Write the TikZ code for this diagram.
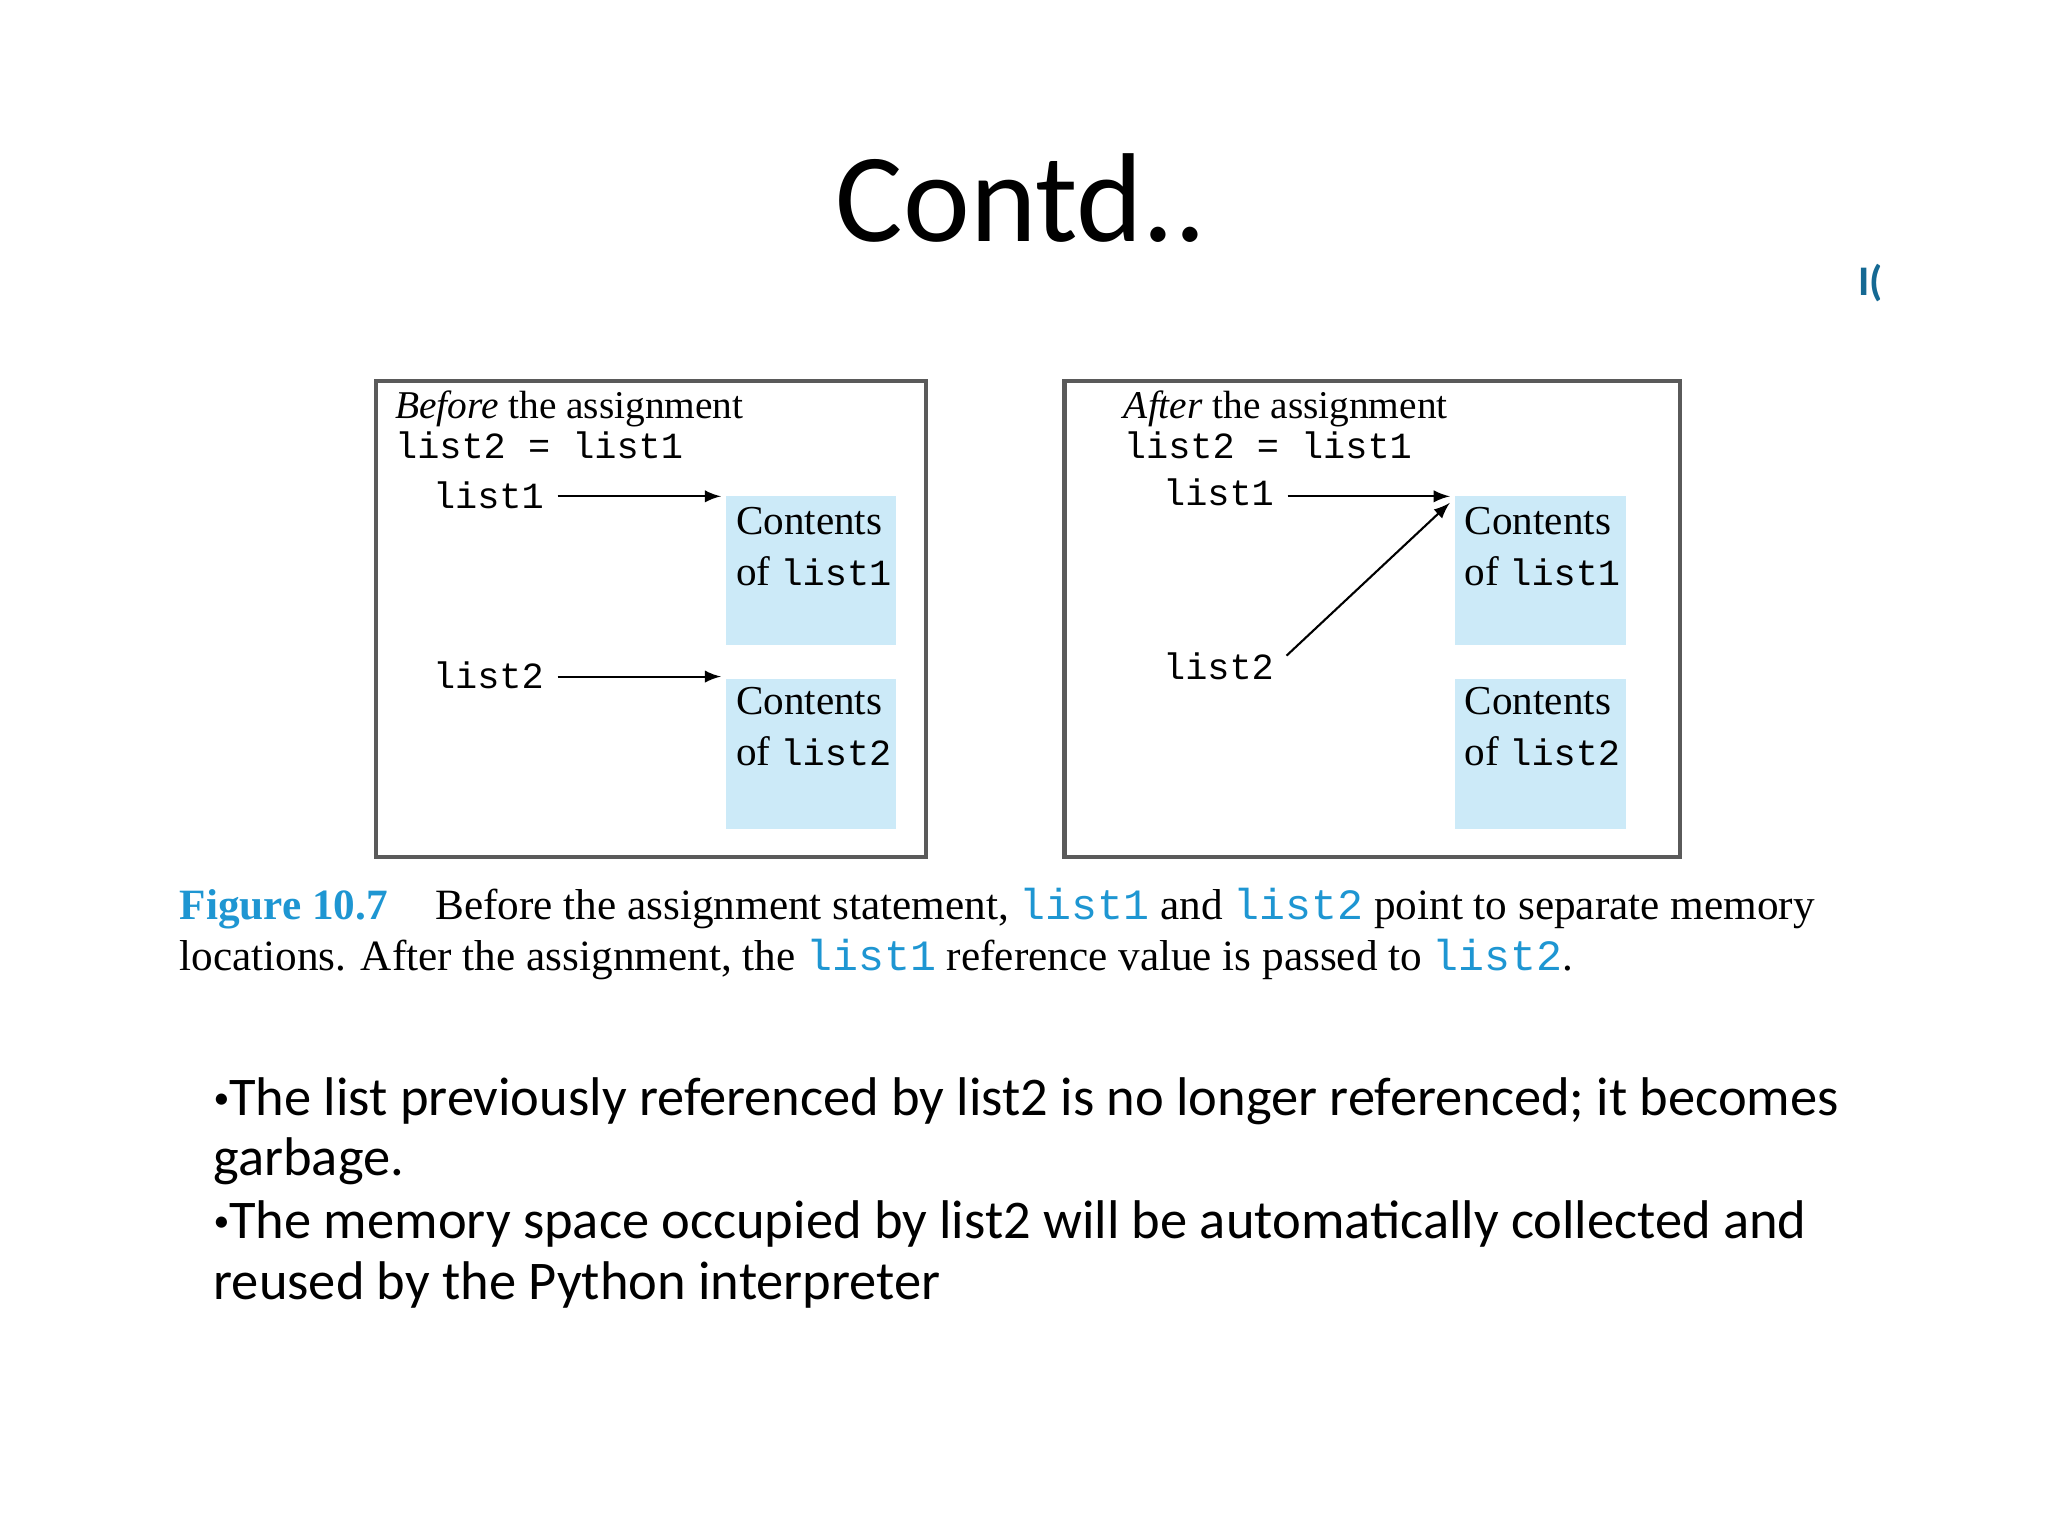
\documentclass[tikz,border=0pt]{standalone}
\usepackage{fontspec}
\setmainfont{Liberation Serif}
\newfontfamily\calfont{Carlito}
\setmonofont{Liberation Mono}
\definecolor{lb}{RGB}{204,234,248}
\definecolor{capblue}{RGB}{30,150,210}
\definecolor{frame}{RGB}{90,90,90}
\begin{document}
\begin{tikzpicture}[x=0.01306cm,y=-0.01306cm,
  fr/.style={draw=frame,line width=1.2pt},
  lbl/.style={anchor=west,inner sep=0,font=\ttfamily\fontsize{10.5}{12}\selectfont},
  cont/.style={align=left,inner sep=0,anchor=north west,font=\fontsize{11.7}{14.5}\selectfont},
  arr/.style={-latex,line width=0.6pt},
  hd/.style={anchor=west,inner sep=0,font=\fontsize{11.2}{13}\selectfont},
  bul/.style={anchor=west,inner sep=0,font=\calfont\fontsize{15.5}{18}\selectfont}]
\useasboundingbox (0,0) rectangle (1568,1176);
\node (title) at (782,152) {\calfont\fontsize{36}{40}\selectfont Contd..};
\node[text=capblue!70!black,inner sep=0] (ic) at (1432,217) {\calfont\bfseries\fontsize{12}{14}\selectfont I(};
% left panel
\draw[fr] (288,292) rectangle (709,656);
\node[hd] (lh1) at (302,313) {\textit{Before} the assignment};
\node[lbl] (lh2) at (302,341) {list2 = list1};
\node[lbl] (l1) at (331,379) {list1};
\fill[lb] (556,380) rectangle (686,494);
\coordinate (bl1w) at (552,380);
\node[cont] (tl1) at (563,388) {Contents\\of \texttt{\fontsize{10.5}{12}\selectfont list1}};
\draw[arr] (l1.east) ++(10,1) -- (bl1w);
\node[lbl] (l2) at (331,517) {list2};
\fill[lb] (556,520) rectangle (686,635);
\coordinate (bl2w) at (552,518);
\node[cont] (tl2) at (563,526) {Contents\\of \texttt{\fontsize{10.5}{12}\selectfont list2}};
\draw[arr] (l2.east) ++(10,1) -- (bl2w);
% right panel
\draw[fr] (815,292) rectangle (1286,656);
\node[hd] (rh1) at (860,313) {\textit{After} the assignment};
\node[lbl] (rh2) at (860,341) {list2 = list1};
\node[lbl] (r1) at (890,377) {list1};
\fill[lb] (1114,380) rectangle (1245,494);
\coordinate (br1w) at (1110,380);
\node[cont] (tr1) at (1121,388) {Contents\\of \texttt{\fontsize{10.5}{12}\selectfont list1}};
\draw[arr] (r1.east) ++(10,3) -- (br1w);
\node[lbl] (r2) at (890,510) {list2};
\fill[lb] (1114,520) rectangle (1245,635);
\node[cont] (tr2) at (1121,526) {Contents\\of \texttt{\fontsize{10.5}{12}\selectfont list2}};
\coordinate (r2e) at (985,502);
\coordinate (br1c) at (1110,385);
\draw[arr] (r2e) -- (br1c);
% caption
\node[anchor=west,inner sep=0,font=\fontsize{12.3}{14}\selectfont] (cap1) at (137,696)
 {\textcolor{capblue}{\bfseries\textsc{Figure} 10.7}\hspace{1.1em}Before the assignment statement, \textcolor{capblue}{\texttt{list1}} and \textcolor{capblue}{\texttt{list2}} point to separate memory};
\node[anchor=west,inner sep=0,font=\fontsize{12.3}{14}\selectfont] (cap2) at (137,735)
 {locations. After the assignment, the \textcolor{capblue}{\texttt{list1}} reference value is passed to \textcolor{capblue}{\texttt{list2}}.};
% bullets
\node[bul] (b1) at (163,843) {{\fontsize{9}{10}\selectfont\raisebox{2pt}{•}}The list previously referenced by list2 is no longer referenced; it becomes};
\node[bul] (b2) at (163,889) {garbage.};
\node[bul] (b3) at (163,937) {{\fontsize{9}{10}\selectfont\raisebox{2pt}{•}}The memory space occupied by list2 will be automatically collected and};
\node[bul] (b4) at (163,984) {reused by the Python interpreter};
\end{tikzpicture}
\end{document}
